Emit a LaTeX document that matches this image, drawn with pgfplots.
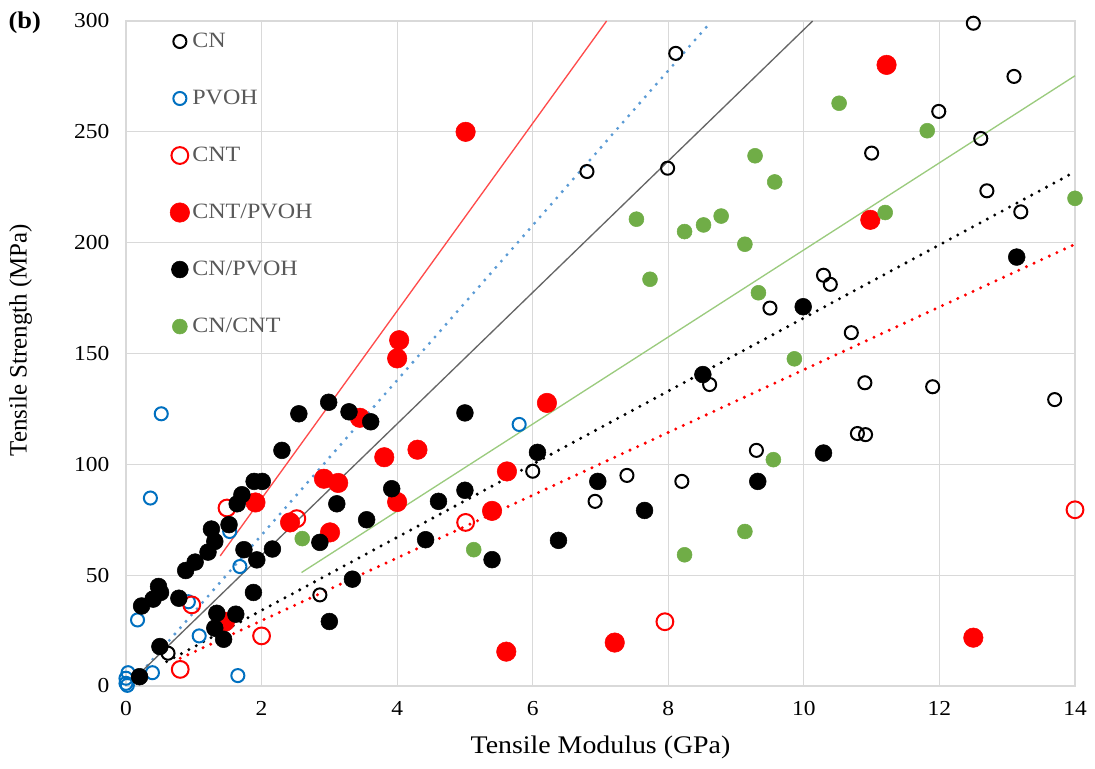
\documentclass[border=0pt]{standalone}
\usepackage{fontspec}
\setmainfont{Liberation Serif}[FakeStretch=1.1]
\newfontfamily\ylabfont{Liberation Serif}
\usepackage{pgfplots}
\pgfplotsset{compat=1.18}
\definecolor{pvohblue}{HTML}{0070C0}
\definecolor{cngreen}{HTML}{70AD47}
\definecolor{gridgray}{HTML}{D9D9D9}
\definecolor{txtgray}{HTML}{595959}
\definecolor{trendblue}{HTML}{5B9BD5}
\definecolor{trendred}{HTML}{FF4B4B}
\definecolor{trendgreen}{HTML}{9BCB7E}
\definecolor{trendgray}{HTML}{666666}
\begin{document}
\begin{tikzpicture}
\begin{axis}[
  name=ax,
  scale only axis,
  width=711.75pt, height=498.75pt,
  xmin=0, xmax=14, ymin=0, ymax=300,
  xtick={0,2,...,14}, ytick={0,50,...,300},
  grid=major,
  major grid style={gridgray, line width=0.9pt},
  axis line style={gridgray, line width=0.9pt},
  major tick length=0pt,
  clip=false,
  /pgf/number format/assume math mode=true,
  tick label style={font=\fontsize{16}{18}\selectfont},
  yticklabel style={xshift=-9pt},
  xticklabel style={yshift=-8pt},
  xlabel={Tensile Modulus (GPa)},
  ylabel={Tensile Strength (MPa)},
  xlabel style={font=\fontsize{19}{22}\selectfont, at={(axis description cs:0.5,-0.092)}, anchor=center},
  ylabel style={font=\ylabfont\fontsize{18.7}{22}\selectfont, at={(axis description cs:-0.111,0.52)}, anchor=center, rotate=0},
  legend cell align=left,
  legend image code/.code={\draw[#1] plot coordinates {(0pt,0pt)};},
  legend style={draw=none, fill=none, at={(rel axis cs:0.042,0.99)}, anchor=north west,
    row sep=26.4pt, font=\fontsize{16.4}{18}\selectfont, text=txtgray,
    /tikz/every even column/.append style={column sep=1pt}},
]
% CN
\addplot[only marks, mark=o, black, mark size=4.9pt, mark options={line width=1.5pt}] coordinates {
  (12.5,299) (8.11,285.4) (6.8,232.1) (7.99,233.6) (13.1,275) (11.99,259.2)
  (12.61,247) (11.0,240.4) (12.7,223.4) (13.2,213.9) (10.29,185.3) (10.39,181.2)
  (9.5,170.5) (10.7,159.4) (8.61,136) (10.9,136.8) (11.9,135) (13.7,129.2)
  (10.79,113.9) (10.91,113.4) (9.3,106.3) (6.0,96.9) (7.39,95) (8.2,92.3)
  (6.92,83.3) (2.86,41.1) (0.62,14.8) };
\addlegendentry{CN}
% PVOH
\addplot[only marks, mark=o, pvohblue, mark size=4.9pt, mark options={line width=1.5pt}] coordinates {
  (0.52,122.8) (0.36,84.8) (1.53,69.7) (1.68,53.9) (5.8,118) (0.92,38)
  (0.17,29.8) (1.08,22.6) (0.39,6) (1.65,4.7) (0.03,6) (0,3.5) (0,1.2) (0.02,0.3) };
\addlegendentry{PVOH}
% CNT
\addplot[only marks, mark=o, red, mark size=6.3pt, mark options={line width=1.5pt}] coordinates {
  (1.49,80.3) (2.52,75.5) (0.97,36.6) (0.8,7.5) (2.0,22.6) (5.01,73.8)
  (7.95,29) (14,79.5) };
\addlegendentry{CNT}
% CNT/PVOH
\addplot[only marks, mark=*, red, mark size=7.3pt, mark options={draw=none, fill=red}] coordinates {
  (5.01,250) (11.22,280.2) (10.98,210.3) (4.03,156) (4.0,147.8) (6.21,127.7)
  (3.45,121) (3.81,103.2) (4.3,106.6) (2.92,93.5) (3.13,91.6) (4.0,83)
  (2.42,73.8) (3.01,69.3) (1.91,82.8) (5.4,79) (5.62,96.8) (5.61,15.5)
  (7.21,19.6) (12.5,21.8) (1.46,29) };
\addlegendentry{CNT/PVOH}
% CN/PVOH
\addplot[only marks, mark=*, black, mark size=6.3pt, mark options={draw=none, fill=black}] coordinates {
  (2.55,122.8) (2.99,128) (3.29,123.7) (3.61,119.2) (2.3,106.3) (1.89,92.3)
  (2.01,92.3) (1.71,86.3) (1.64,82.2) (1.26,70.8) (1.31,65.2) (1.52,72.8)
  (1.21,60.4) (1.02,55.9) (0.88,52.1) (0.48,44.9) (0.51,42.2) (0.4,39.2)
  (0.23,36.1) (0.78,39.6) (3.11,82.2) (2.16,61.8) (1.93,56.9) (1.88,42.2)
  (1.74,61.5) (1.62,32.4) (1.34,32.8) (1.31,26.1) (1.44,21.1) (0.5,17.8)
  (0.2,4.2) (2.86,64.8) (3.0,29.1) (3.34,48.2) (3.55,75) (3.92,89)
  (4.61,83.3) (4.42,66) (5.0,123.2) (6.07,105.4) (5.0,88.3) (5.4,57)
  (6.38,65.7) (6.96,92.3) (7.65,79.2) (8.51,140.5) (9.32,92.3) (9.99,171.1)
  (10.29,105.1) (13.14,193.5) };
\addlegendentry{CN/PVOH}
% CN/CNT
\addplot[only marks, mark=*, cngreen, mark size=5.6pt, mark options={draw=none, fill=cngreen}] coordinates {
  (10.52,262.9) (11.82,250.5) (9.28,239.2) (9.57,227.4) (11.2,213.6) (14,220)
  (9.33,177.4) (9.86,147.6) (9.55,102.1) (7.53,210.6) (8.24,205) (8.52,208)
  (8.78,212) (7.73,183.5) (9.13,199.3) (9.13,69.7) (8.24,59.2) (5.13,61.5)
  (2.6,66.5) };
\addlegendentry{CN/CNT}
% trend lines
\addplot[trendred, line width=1pt, forget plot] coordinates {(1.39,58.7) (7.09,300)};
\addplot[trendblue, line width=2.5pt, line cap=round, dash pattern=on 0pt off 6.3pt, forget plot] coordinates {(0.15,3.5) (8.64,300)};
\addplot[trendgray, line width=1pt, forget plot] coordinates {(0.23,6.5) (10.13,300)};
\addplot[trendgreen, line width=1pt, forget plot] coordinates {(2.59,51.2) (14,275.3)};
\addplot[black, line width=2.5pt, line cap=round, dash pattern=on 0pt off 6.3pt, forget plot] coordinates {(0.6,11) (14,232)};
\addplot[red, line width=2.5pt, line cap=round, dash pattern=on 0pt off 6.3pt, forget plot] coordinates {(0.8,12.5) (14,199.3)};
\node[anchor=west, font=\bfseries\fontsize{18}{20}\selectfont, inner sep=0pt] at (rel axis cs:-0.124,0.998) {(b)};
\end{axis}
\pgfresetboundingbox
\path ([shift={(-94.5pt,-61.5pt)}]ax.south west) rectangle ([shift={(15pt,15.75pt)}]ax.north east);
\end{tikzpicture}
\end{document}
